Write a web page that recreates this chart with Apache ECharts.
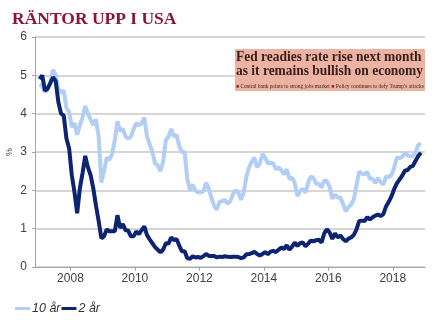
<!DOCTYPE html>
<html>
<head>
<meta charset="utf-8">
<script src="https://cdn.jsdelivr.net/npm/echarts@6/dist/echarts.min.js"></script>
<style>html,body{margin:0;padding:0;background:#fff}#c{width:445px;height:327px}</style>
</head>
<body>
<div id="c"></div>
<script>
const title = 'RÄNTOR UPP I USA';
const unitLabel = '%';
const seriesNames = ['10 år', '2 år'];
const startYear = 2007;
const xTicks = [2008, 2010, 2012, 2014, 2016, 2018];
const headline = ['Fed readies rate rise next month', 'as it remains bullish on economy'];
const subheads = ['Central bank points to strong jobs market', 'Policy continues to defy Trump\u2019s attacks'];

// monthly values, Jan 2007 .. Nov 2018
const tenYear = [
  4.76, 4.72, 4.56, 4.69, 4.80, 5.15, 5.00, 4.65, 4.55, 4.60, 4.15, 4.05,
  3.65, 3.75, 3.45, 3.70, 3.90, 4.20, 4.00, 3.85, 3.70, 3.85, 3.40, 2.20,
  2.50, 2.85, 2.80, 2.95, 3.30, 3.80, 3.55, 3.60, 3.40, 3.35, 3.40, 3.60,
  3.75, 3.70, 3.75, 3.90, 3.40, 3.20, 3.00, 2.70, 2.65, 2.50, 2.75, 3.30,
  3.40, 3.60, 3.40, 3.45, 3.15, 3.00, 3.00, 2.30, 2.00, 2.15, 2.00, 1.95,
  1.95, 1.97, 2.20, 2.05, 1.80, 1.60, 1.50, 1.70, 1.72, 1.75, 1.65, 1.72,
  1.90, 2.00, 1.95, 1.75, 1.95, 2.35, 2.60, 2.75, 2.85, 2.60, 2.70, 2.95,
  2.85, 2.70, 2.72, 2.70, 2.55, 2.60, 2.52, 2.42, 2.55, 2.30, 2.33, 2.20,
  1.85, 1.98, 2.04, 1.94, 2.20, 2.36, 2.32, 2.17, 2.17, 2.07, 2.26, 2.24,
  2.09, 1.78, 1.89, 1.81, 1.81, 1.64, 1.45, 1.56, 1.63, 1.76, 2.14, 2.49,
  2.43, 2.42, 2.48, 2.30, 2.30, 2.19, 2.32, 2.21, 2.15, 2.36, 2.35, 2.40,
  2.58, 2.86, 2.84, 2.87, 2.98, 2.91, 2.89, 2.89, 3.00, 3.18, 3.22
];
const twoYear = [
  4.90, 5.00, 4.60, 4.65, 4.80, 4.95, 4.85, 4.30, 4.00, 3.95, 3.35, 3.10,
  2.40, 1.95, 1.40, 2.05, 2.45, 2.90, 2.60, 2.40, 2.05, 1.60, 1.20, 0.75,
  0.80, 0.98, 0.93, 0.93, 0.93, 1.35, 1.02, 1.12, 0.96, 0.95, 0.80, 0.80,
  0.93, 0.86, 0.96, 1.06, 0.83, 0.72, 0.62, 0.52, 0.45, 0.38, 0.45, 0.62,
  0.61, 0.77, 0.70, 0.73, 0.56, 0.41, 0.41, 0.23, 0.21, 0.28, 0.25, 0.26,
  0.24, 0.28, 0.34, 0.29, 0.29, 0.29, 0.25, 0.27, 0.26, 0.28, 0.27, 0.26,
  0.27, 0.27, 0.26, 0.23, 0.25, 0.33, 0.34, 0.36, 0.40, 0.34, 0.30, 0.34,
  0.39, 0.33, 0.40, 0.42, 0.39, 0.45, 0.51, 0.47, 0.57, 0.45, 0.53, 0.64,
  0.55, 0.62, 0.64, 0.54, 0.61, 0.69, 0.67, 0.70, 0.71, 0.64, 0.88, 0.98,
  0.90, 0.73, 0.88, 0.77, 0.82, 0.73, 0.67, 0.74, 0.77, 0.84, 0.98, 1.20,
  1.21, 1.20, 1.30, 1.24, 1.30, 1.34, 1.37, 1.33, 1.38, 1.58, 1.70, 1.84,
  2.03, 2.18, 2.28, 2.38, 2.51, 2.53, 2.61, 2.64, 2.77, 2.90, 2.98
];

const toPoints = arr => arr.map((v, i) => [startYear + (i + 0.5) / 12, v]);

const labelFont = '"Liberation Sans", Arial, sans-serif';
const serif = '"Liberation Serif", "Times New Roman", serif';
const headFont = 'bold 14px "Liberation Serif"';
const headWidth = 187;
const ctx = document.createElement('canvas').getContext('2d');
ctx.font = headFont;
const headScale = headWidth / Math.max(ctx.measureText(headline[0]).width, ctx.measureText(headline[1]).width);

const chart = echarts.init(document.getElementById('c'), null, {renderer: 'canvas'});

chart.setOption({
  animation: false,
  backgroundColor: '#fff',
  title: {
    text: title, left: 7, top: 5,
    textStyle: {fontFamily: serif, fontWeight: 'bold', fontSize: 17.5, color: '#8B1535'}
  },
  legend: {
    left: 10, top: 297, itemWidth: 15, itemHeight: 3, itemGap: 1,
    icon: 'rect',
    textStyle: {fontFamily: labelFont, fontStyle: 'italic', fontSize: 12.5, color: '#333', padding: [0, 0, 0, -3]},
    data: seriesNames
  },
  grid: {left: 35, right: 20, top: 37, bottom: 60, outerBoundsMode: 'none', containLabel: false},
  xAxis: {
    type: 'value', min: 2006.9, max: 2019,
    axisLine: {lineStyle: {color: '#a6a6a6', width: 1}},
    axisTick: {show: true, length: 4, customValues: xTicks, lineStyle: {color: '#a6a6a6'}},
    axisLabel: {customValues: xTicks, formatter: v => String(Math.round(v)), fontFamily: labelFont, fontSize: 12, color: '#404040', margin: 6},
    splitLine: {show: false}
  },
  yAxis: {
    type: 'value', min: 0, max: 6, interval: 1,
    axisLine: {show: true, lineStyle: {color: '#a6a6a6', width: 1}},
    axisTick: {show: true, length: 3, lineStyle: {color: '#a6a6a6'}},
    axisLabel: {fontFamily: labelFont, fontSize: 12, color: '#404040', margin: 8},
    splitLine: {lineStyle: {color: '#c8c8c8', width: 1.5}}
  },
  series: [
    {name: seriesNames[0], type: 'line', data: toPoints(tenYear), showSymbol: false, symbol: 'none',
     lineStyle: {color: '#B3CEF5', width: 4}, itemStyle: {color: '#B3CEF5'}, z: 2},
    {name: seriesNames[1], type: 'line', data: toPoints(twoYear), showSymbol: false, symbol: 'none',
     lineStyle: {color: '#0D2473', width: 4}, itemStyle: {color: '#0D2473'}, z: 3}
  ],
  graphic: [
    {type: 'text', x: 10, y: 152, rotation: Math.PI / 2, z: 11,
     style: {text: unitLabel, fontFamily: labelFont, fontSize: 9, fill: '#404040', align: 'center', verticalAlign: 'middle'}},
    {type: 'rect', x: 235, y: 49, z: 10, shape: {x: 0, y: 0, width: 190, height: 42}, style: {fill: '#EBB3A2'}},
    {type: 'text', x: 236, y: 57, scaleX: headScale, z: 11,
     style: {text: headline[0], font: headFont, verticalAlign: 'middle', align: 'left', fill: '#3a1d1d'}},
    {type: 'text', x: 236, y: 71.5, scaleX: headScale, z: 11,
     style: {text: headline[1], font: headFont, verticalAlign: 'middle', align: 'left', fill: '#3a1d1d'}},
    {type: 'text', x: 236, y: 87, z: 11,
     style: {
       text: '{sq|\u25A0} ' + subheads[0] + ' {sq|\u25A0} ' + subheads[1],
       fontFamily: serif, fontSize: 5.4, fill: '#3a1d1d', verticalAlign: 'middle',
       rich: {sq: {fill: '#C0161E', fontSize: 5.4}}
     }}
  ]
});
</script>
</body>
</html>
